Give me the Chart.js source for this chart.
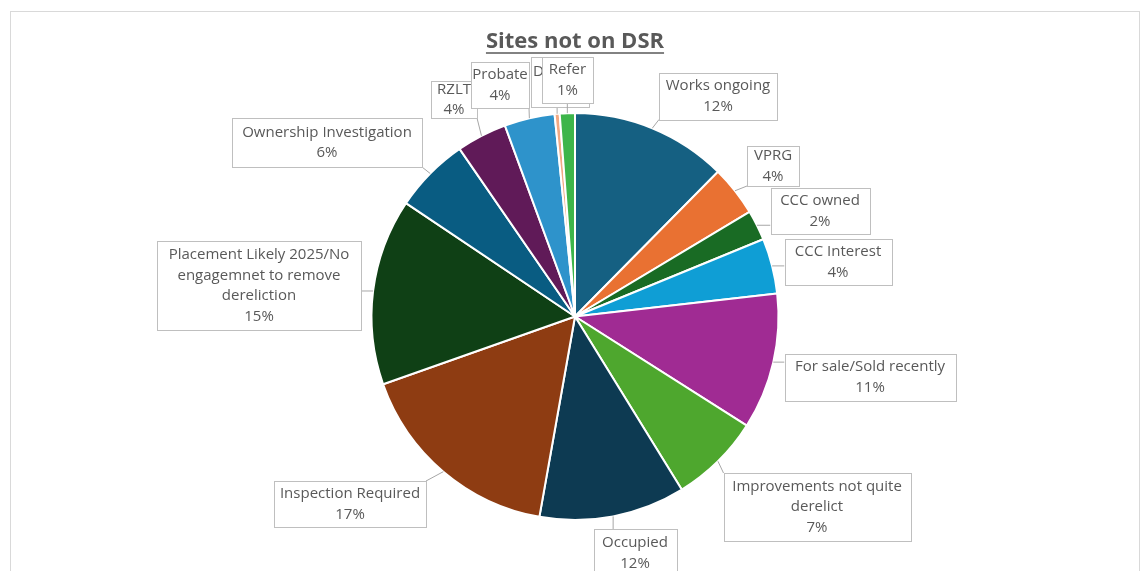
<!DOCTYPE html>
<html lang="en">
<head>
    <meta charset="UTF-8">
    <title>Sites not on DSR</title>
    <script src="https://cdn.jsdelivr.net/npm/chart.js"></script>
    <style>
        body { margin: 0; background: #ffffff; }
        canvas { display: block; }
    </style>
</head>
<body>
    <canvas id="dsrChart" width="1141" height="571"></canvas>
    <script>
        const chartTitle = 'Sites not on DSR';
        const categories = [
            'Works ongoing', 'VPRG', 'CCC owned', 'CCC Interest', 'For sale/Sold recently',
            'Improvements not quite derelict', 'Occupied', 'Inspection Required',
            'Placement Likely 2025/No engagemnet to remove dereliction',
            'Ownership Investigation', 'RZLT', 'Probate', 'Derelict', 'Refer'
        ];
        const values = [12.4, 4.0, 2.4, 4.4, 10.8, 7.2, 11.6, 16.8, 14.8, 6.0, 4.0, 4.0, 0.4, 1.2];
        const colors = [
            '#156082', '#E97132', '#196B24', '#0F9ED5', '#A02B93', '#4EA72E', '#0D3A52',
            '#8E3C12', '#0F4015', '#095C82', '#601A58', '#2E93CB', '#F1A983', '#3DB54A'
        ];

        // label boxes: centre x, centre y, width, height
        const labelBoxes = [
            [718, 96, 118, 47],
            [773, 166, 52, 40],
            [820, 211, 99, 46],
            [838, 262, 107, 46],
            [870, 377, 171, 47],
            [817, 507, 187, 68],
            [635, 553, 83, 48],
            [350, 504, 152, 46],
            [259, 285.5, 204, 89],
            [327, 142.5, 190, 49],
            [454, 99.5, 46, 37],
            [500, 85, 58, 46],
            [560, 82, 58, 50],
            [567.5, 80, 51, 46]
        ];

        const textColor = '#595959';
        const labelFont = '15px "Open Sans"';
        const lineHeight = 20.5;

        function wrapText(ctx, text, maxWidth) {
            const words = text.split(' ');
            const lines = [];
            let line = '';
            words.forEach(word => {
                const test = line ? line + ' ' + word : word;
                if (line && ctx.measureText(test).width > maxWidth) {
                    lines.push(line);
                    line = word;
                } else {
                    line = test;
                }
            });
            lines.push(line);
            return lines;
        }

        const framePlugin = {
            id: 'frame',
            beforeDraw(chart) {
                const ctx = chart.ctx;
                ctx.save();
                ctx.strokeStyle = '#d9d9d9';
                ctx.lineWidth = 1;
                ctx.strokeRect(10.5, 11.5, 1129, 600);

                ctx.font = 'bold 22px "Open Sans"';
                ctx.fillStyle = textColor;
                ctx.textAlign = 'center';
                ctx.textBaseline = 'alphabetic';
                ctx.fillText(chartTitle, 575, 48);
                const w = ctx.measureText(chartTitle).width;
                ctx.strokeStyle = textColor;
                ctx.lineWidth = 1.5;
                ctx.beginPath();
                ctx.moveTo(575 - w / 2, 53);
                ctx.lineTo(575 + w / 2, 53);
                ctx.stroke();
                ctx.restore();
            }
        };

        const calloutPlugin = {
            id: 'callouts',
            afterDatasetsDraw(chart) {
                const ctx = chart.ctx;
                const meta = chart.getDatasetMeta(0);
                const total = values.reduce((a, b) => a + b, 0);
                ctx.save();
                ctx.font = labelFont;
                meta.data.forEach((arc, i) => {
                    const p = arc.getProps(['x', 'y', 'startAngle', 'endAngle', 'outerRadius'], true);
                    const mid = (p.startAngle + p.endAngle) / 2;
                    const ax = p.x + Math.cos(mid) * p.outerRadius;
                    const ay = p.y + Math.sin(mid) * p.outerRadius;
                    const [cx, cy, w, h] = labelBoxes[i];
                    const left = cx - w / 2, top = cy - h / 2;
                    const nx = Math.min(Math.max(ax, left), left + w);
                    const ny = Math.min(Math.max(ay, top), top + h);

                    ctx.strokeStyle = '#a6a6a6';
                    ctx.lineWidth = 1;
                    ctx.beginPath();
                    ctx.moveTo(ax, ay);
                    ctx.lineTo(nx, ny);
                    ctx.stroke();

                    ctx.fillStyle = '#ffffff';
                    ctx.fillRect(left, top, w, h);
                    ctx.strokeStyle = '#bfbfbf';
                    ctx.strokeRect(Math.round(left) + 0.5, Math.round(top) + 0.5, Math.round(w), Math.round(h));

                    const lines = wrapText(ctx, categories[i], w - 8);
                    lines.push(Math.round(values[i] / total * 100) + '%');
                    ctx.fillStyle = textColor;
                    ctx.textAlign = 'center';
                    ctx.textBaseline = 'middle';
                    const startY = cy - (lines.length - 1) * lineHeight / 2;
                    lines.forEach((ln, k) => ctx.fillText(ln, cx, startY + k * lineHeight));
                });
                ctx.restore();
            }
        };

        new Chart(document.getElementById('dsrChart'), {
            type: 'pie',
            data: {
                labels: categories,
                datasets: [{
                    data: values,
                    backgroundColor: colors,
                    borderColor: '#ffffff',
                    borderWidth: 2
                }]
            },
            options: {
                responsive: false,
                animation: false,
                layout: { padding: { top: 112, bottom: 50, left: 9, right: 0 } },
                plugins: {
                    legend: { display: false },
                    tooltip: { enabled: false },
                    title: { display: false }
                }
            },
            plugins: [framePlugin, calloutPlugin]
        });
    </script>
</body>
</html>
